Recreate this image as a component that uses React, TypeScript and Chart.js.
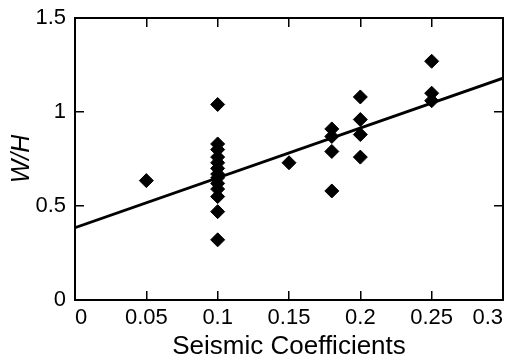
import React, { useEffect, useRef } from "react";
import { Chart, registerables } from "chart.js";

Chart.register(...registerables);

const pointX: number[] = [
  0.05,
  0.1, 0.1, 0.1, 0.1, 0.1, 0.1, 0.1, 0.1, 0.1, 0.1, 0.1, 0.1, 0.1,
  0.15,
  0.18, 0.18, 0.18, 0.18,
  0.2, 0.2, 0.2, 0.2,
  0.25, 0.25, 0.25,
];
const pointY: number[] = [
  0.635,
  1.04, 0.83, 0.8, 0.76, 0.73, 0.7, 0.67, 0.65, 0.62, 0.59, 0.55, 0.47, 0.32,
  0.73,
  0.91, 0.87, 0.79, 0.58,
  1.08, 0.96, 0.88, 0.76,
  1.27, 1.1, 1.06,
];
const fitX: number[] = [0, 0.3];
const fitY: number[] = [0.385, 1.18];

const xTickLabels: string[] = ["0", "0.05", "0.1", "0.15", "0.2", "0.25", "0.3"];
const yTickLabels: string[] = ["0", "0.5", "1", "1.5"];

const FONT = "'Liberation Sans', Arial, Helvetica, sans-serif";

export default function App() {
  const ref = useRef<HTMLCanvasElement | null>(null);

  useEffect(() => {
    if (!ref.current) return;
    const chart = new Chart(ref.current, {
      type: "scatter",
      data: {
        datasets: [
          {
            type: "line",
            data: fitX.map((x, i) => ({ x, y: fitY[i] })),
            borderColor: "#000",
            borderWidth: 2.8,
            pointRadius: 0,
            fill: false,
            order: 2,
          } as any,
          {
            type: "scatter",
            data: pointX.map((x, i) => ({ x, y: pointY[i] })),
            pointStyle: "rectRot",
            pointRadius: 7,
            backgroundColor: "#000",
            borderColor: "#000",
            borderWidth: 1,
            order: 1,
          },
        ],
      },
      options: {
        responsive: false,
        animation: false,
        layout: { padding: { top: 18, right: 10, left: 0, bottom: 0 } },
        plugins: { legend: { display: false }, tooltip: { enabled: false } },
        scales: {
          x: {
            type: "linear",
            position: "bottom",
            min: 0,
            max: 0.3,
            grid: { drawOnChartArea: false, drawTicks: true, tickLength: -9, color: "#000", lineWidth: 1.5 },
            border: { display: true, color: "#000", width: 2 },
            ticks: {
              stepSize: 0.05,
              align: "inner",
              padding: 14,
              color: "#000",
              font: { family: FONT, size: 22 },
              callback: (_v: any, i: number) => xTickLabels[i],
            },
            title: {
              display: true,
              text: "Seismic Coefficients",
              color: "#000",
              font: { family: FONT, size: 26, lineHeight: 1 },
              padding: { top: 0, bottom: -2 },
            },
            afterFit: (s: any) => {
              s.height = 58;
              s.paddingLeft = 0;
              s.paddingRight = 0;
            },
          },
          x2: {
            type: "linear",
            position: "top",
            min: 0,
            max: 0.3,
            grid: { drawOnChartArea: false, drawTicks: true, tickLength: -9, color: "#000", lineWidth: 1.5 },
            border: { display: true, color: "#000", width: 2 },
            ticks: { display: false, stepSize: 0.05 },
            afterFit: (s: any) => {
              s.height = 0;
              s.paddingLeft = 0;
              s.paddingRight = 0;
            },
          },
          y: {
            type: "linear",
            position: "left",
            min: 0,
            max: 1.5,
            grid: { drawOnChartArea: false, drawTicks: true, tickLength: -9, color: "#000", lineWidth: 1.5 },
            border: { display: true, color: "#000", width: 2 },
            ticks: {
              stepSize: 0.5,
              padding: 18,
              color: "#000",
              font: { family: FONT, size: 22 },
              callback: (_v: any, i: number) => yTickLabels[i],
            },
            title: {
              display: true,
              text: "W/H",
              color: "#000",
              font: { family: FONT, size: 25, style: "italic", lineHeight: 1 },
              padding: { top: 10, bottom: 0 },
            },
            afterFit: (s: any) => {
              s.width = 75;
              s.paddingTop = 0;
              s.paddingBottom = 0;
            },
          },
          y2: {
            type: "linear",
            position: "right",
            min: 0,
            max: 1.5,
            grid: { drawOnChartArea: false, drawTicks: true, tickLength: -9, color: "#000", lineWidth: 1.5 },
            border: { display: true, color: "#000", width: 2 },
            ticks: { display: false, stepSize: 0.5 },
            afterFit: (s: any) => {
              s.width = 0;
              s.paddingTop = 0;
              s.paddingBottom = 0;
            },
          },
        },
      },
    });
    return () => chart.destroy();
  }, []);

  return (
    <div style={{ position: "absolute", left: 0, top: 0, width: 513, height: 358, background: "#fff" }}>
      <canvas ref={ref} width={513} height={358} />
    </div>
  );
}
